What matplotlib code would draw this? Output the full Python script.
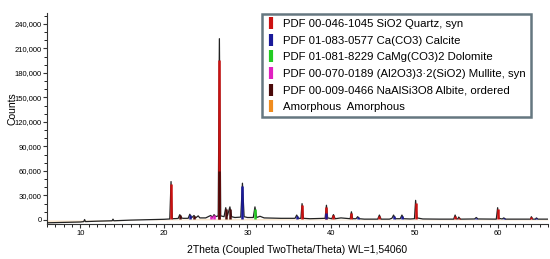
import numpy as np
import matplotlib.pyplot as plt
from matplotlib.lines import Line2D
from matplotlib.ticker import MultipleLocator, FuncFormatter

plt.rcParams['font.family'] = ['Liberation Sans', 'DejaVu Sans']

# measured pattern (2theta, counts)
tt = [6.0, 8.0, 10.0, 10.4, 10.5, 10.6, 12.0, 13.8, 13.9, 14.0, 16.0, 18.0,
      20.0, 20.7, 20.85, 21.0, 21.7, 21.9, 22.1, 22.3, 22.9, 23.1, 23.3, 23.6,
      23.8, 24.1, 24.3, 25.0, 25.6, 25.8, 26.0, 26.2, 26.5, 26.64, 26.8, 27.2,
      27.4, 27.6, 27.9, 28.1, 28.5, 29.2, 29.4, 29.6, 30.0, 30.7, 30.9, 31.1,
      31.5, 32.0, 34.0, 35.7, 35.9, 36.1, 36.4, 36.54, 36.7, 37.5, 39.3, 39.46,
      39.6, 40.1, 40.3, 40.5, 41.2, 42.3, 42.45, 42.6, 43.0, 43.2, 43.4, 44.0,
      45.6, 45.8, 46.0, 47.0, 47.3, 47.5, 47.7, 48.3, 48.5, 48.7, 49.5, 50.0,
      50.14, 50.3, 51.0, 53.0, 54.7, 54.87, 55.0, 55.2, 55.3, 55.5, 57.2, 57.4,
      57.6, 59.8, 59.96, 60.1, 60.5, 60.7, 60.9, 63.9, 64.0, 64.15, 64.5, 64.6,
      64.8, 66.0]
counts = [-3500, -3000, -2500, -2000, 500, -2000, -1500, -1000, 1000, -1000, -200, 300,
          800, 1200, 47000, 1500, 1800, 6500, 2500, 2000, 2000, 7000, 2500, 5500,
          2500, 5000, 2500, 2500, 5500, 3000, 6500, 4000, 5000, 222000, 5000, 4000,
          15000, 5000, 16000, 4000, 3000, 3500, 45000, 4000, 3000, 3000, 16000, 3000,
          4500, 2500, 2000, 2000, 6000, 2000, 2000, 20000, 2000, 1500, 2000, 18000,
          2500, 1500, 6500, 1500, 2500, 1500, 10000, 1500, 1500, 4000, 1500, 1000,
          1000, 6000, 1000, 1000, 2000, 6000, 1500, 1500, 6000, 1500, 1200, 1500,
          24000, 2500, 1200, 1000, 1000, 6000, 1500, 1200, 3500, 1000, 1200, 3000,
          1200, 1000, 15000, 2000, 1200, 2500, 1000, 1000, 4000, 1000, 1000, 2500,
          1000, 1000]

# phase sticks
quartz_pos = [20.85, 26.64, 36.54, 39.46, 40.3, 42.45, 45.8, 50.14, 54.87, 55.3, 59.96, 64.0]
quartz_h = [44000, 196000, 18000, 16000, 5500, 9000, 5000, 21000, 5000, 3000, 13000, 3300]
calcite_pos = [23.1, 29.4, 35.9, 39.4, 43.2, 47.5, 48.5, 57.4, 60.7, 64.6]
calcite_h = [6000, 42000, 5000, 8500, 3500, 5000, 5000, 2700, 2200, 2200]
dolomite_pos = [30.9]
dolomite_h = [14000]
mullite_pos = [25.6, 26.0]
mullite_h = [5000, 6000]
albite_pos = [21.9, 23.6, 26.64, 27.4, 27.9]
albite_h = [5500, 5000, 60000, 13000, 14000]
amorph_tt = [6, 15, 20, 25, 30, 35, 45, 66]
amorph_c = [-3500, -800, 700, 2000, 2000, 1500, 800, 800]

labels = ['PDF 00-046-1045 SiO2 Quartz, syn',
          'PDF 01-083-0577 Ca(CO3) Calcite',
          'PDF 01-081-8229 CaMg(CO3)2 Dolomite',
          'PDF 00-070-0189 (Al2O3)3\u00b72(SiO2) Mullite, syn',
          'PDF 00-009-0466 NaAlSi3O8 Albite, ordered',
          'Amorphous  Amorphous']
colors = ['#cc1111', '#1a1a9a', '#22cc22', '#e020c0', '#4a0a0a', '#f08c1e']

fig = plt.figure(figsize=(5.5, 2.59), dpi=100)
ax = fig.add_axes([0.0855, 0.135, 0.911, 0.815])

ax.fill_between(amorph_tt, 0, amorph_c, color='#f7d9b0', alpha=0.6, lw=0)
ax.plot(tt, counts, color='#222222', lw=0.9, zorder=3)
phases = [(quartz_pos, quartz_h), (calcite_pos, calcite_h), (dolomite_pos, dolomite_h),
          (mullite_pos, mullite_h), (albite_pos, albite_h)]
for (pos, h), c in zip(phases, colors):
    ax.vlines(pos, 1000, h, color=c, lw=1.8, zorder=4)

ax.set_xlim(6, 66)
ax.set_ylim(-5000, 253500)
ax.xaxis.set_major_locator(MultipleLocator(10))
ax.xaxis.set_minor_locator(MultipleLocator(1))
ax.yaxis.set_major_locator(MultipleLocator(30000))
ax.yaxis.set_minor_locator(MultipleLocator(10000))
ax.yaxis.set_major_formatter(FuncFormatter(lambda v, p: f'{int(v):,}'))
ax.tick_params(labelsize=5.5, length=3, width=0.8, color='#333333', pad=1)
ax.tick_params(which='minor', length=2, width=0.6)
for s in ['top', 'right']:
    ax.spines[s].set_visible(False)
for s in ['left', 'bottom']:
    ax.spines[s].set_color('#333333')
    ax.spines[s].set_linewidth(0.8)

fig.text(12 / 550, 0.579, 'Counts', fontsize=7.5, rotation=90, ha='center', va='center')
ax.set_xlabel('2Theta (Coupled TwoTheta/Theta) WL=1,54060', fontsize=7.5, labelpad=6)

handles = [Line2D([], [], ls='none', marker='|', markersize=9, markeredgewidth=3, color=c)
           for c in colors]
leg = ax.legend(handles, labels, loc='upper left', bbox_to_anchor=(0.429, 0.995),
                fontsize=8.2, frameon=True, fancybox=False, handlelength=0.6,
                handletextpad=0.8, borderpad=0.45, labelspacing=0.58, borderaxespad=0)
leg.get_frame().set_edgecolor('#3f5560')
leg.get_frame().set_linewidth(1.8)

fig.savefig('out.png', dpi=100)
